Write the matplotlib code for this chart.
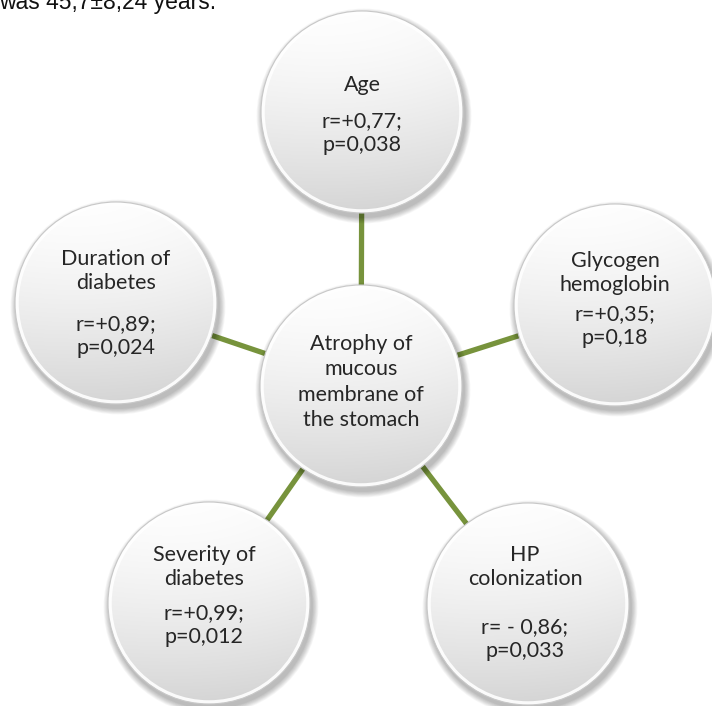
import numpy as np
import matplotlib.pyplot as plt
from matplotlib.patches import Circle

# === Data ===
center_label = "Atrophy of\nmucous\nmembrane of\nthe stomach"
factors = ["Age", "Glycogen\nhemoglobin", "HP\ncolonization", "Severity of\ndiabetes", "Duration of\ndiabetes"]
r_values = ["+0,77", "+0,35", " - 0,86", "+0,99", "+0,89"]
p_values = ["0,038", "0,18", "0,033", "0,012", "0,024"]
header_text = "was 45,7\u00b18,24 years."

# === Layout (pixel coordinates, y down) ===
W, H = 712, 706
center_xy = (361, 386)
node_xy = [(362, 112), (615, 305), (528, 604), (209, 603), (116, 303)]
node_r = 101
# offsets of label block and stats block from node centre
label_dy = [-27, -32, -37, -36, -32]
stats_dy = [21, 21, 35, 22, 33]
text_dx = [0, 0, -3, -5, 0]

GREEN = "#77933C"
TXT = "#262626"
FONT = ["Lato", "DejaVu Sans"]
FS = 15.5

fig = plt.figure(figsize=(W / 100, H / 100), dpi=100)
ax = fig.add_axes([0, 0, 1, 1])
ax.set_xlim(0, W)
ax.set_ylim(H, 0)
ax.set_aspect("equal")
ax.axis("off")

# gradient image used for every disk
n = 200
yy, xx = np.mgrid[0:1:n * 1j, 0:1:n * 1j]
shade = 0.995 - 0.16 * yy ** 1.5 - 0.04 * (xx - 0.3) ** 2
grad = np.dstack([shade, shade, shade])


def bubble(cx, cy, r):
    # soft shadow below / right
    for k in range(8, 0, -1):
        ax.add_patch(Circle((cx + 2, cy + 4), r + k * 0.8, color="#000000",
                            alpha=0.035, lw=0, zorder=2))
    disk = Circle((cx, cy), r, facecolor="none", edgecolor="none", zorder=3)
    ax.add_patch(disk)
    im = ax.imshow(grad, extent=[cx - r, cx + r, cy + r, cy - r],
                   origin="upper", zorder=3, interpolation="bilinear")
    im.set_clip_path(disk)
    # bevel rim
    ax.add_patch(Circle((cx, cy), r - 2, facecolor="none", edgecolor="white",
                        lw=2.5, alpha=0.9, zorder=4))
    ax.add_patch(Circle((cx, cy), r, facecolor="none", edgecolor="#C8C8C8",
                        lw=0.8, zorder=4))


# connectors
for (x, y) in node_xy:
    ax.plot([center_xy[0], x], [center_xy[1], y], color=GREEN, lw=3.8,
            solid_capstyle="butt", zorder=1)

bubble(*center_xy, node_r)
ax.text(center_xy[0], center_xy[1] - 4, center_label, ha="center", va="center",
        fontsize=FS, color=TXT, family=FONT, linespacing=1.35, zorder=5)

for i, (x, y) in enumerate(node_xy):
    bubble(x, y, node_r)
    ax.text(x + text_dx[i], y + label_dy[i], factors[i], ha="center", va="center",
            fontsize=FS, color=TXT, family=FONT, linespacing=1.25, zorder=5)
    ax.text(x + text_dx[i], y + stats_dy[i], f"r={r_values[i]};\np={p_values[i]}",
            ha="center", va="center", fontsize=FS, color=TXT, family=FONT,
            linespacing=1.25, zorder=5)

# cropped line of text from the page above
ax.text(-1, 9, header_text, ha="left", va="baseline", fontsize=16.5,
        color="#111111", family=["Liberation Sans", "DejaVu Sans"], zorder=5)

fig.savefig("out.png", dpi=100, facecolor="white")
